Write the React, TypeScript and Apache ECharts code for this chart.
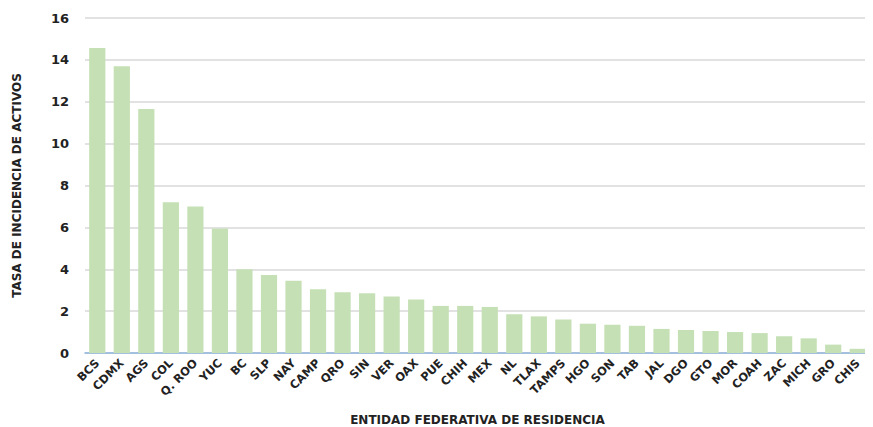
import { useEffect, useRef } from "react"
import * as echarts from "echarts"

const states = ["BCS", "CDMX", "AGS", "COL", "Q. ROO", "YUC", "BC", "SLP", "NAY", "CAMP", "QRO", "SIN", "VER", "OAX", "PUE", "CHIH", "MEX", "NL", "TLAX", "TAMPS", "HGO", "SON", "TAB", "JAL", "DGO", "GTO", "MOR", "COAH", "ZAC", "MICH", "GRO", "CHIS"]
const rates = [14.57, 13.7, 11.65, 7.2, 7.0, 5.95, 4.0, 3.72, 3.45, 3.05, 2.9, 2.85, 2.7, 2.55, 2.25, 2.25, 2.2, 1.85, 1.75, 1.6, 1.4, 1.35, 1.3, 1.15, 1.1, 1.05, 1.0, 0.95, 0.8, 0.7, 0.4, 0.2]

const font = "DejaVu Sans"

export default function App() {
  const chartRef = useRef<HTMLDivElement>(null)

  useEffect(() => {
    if (!chartRef.current) return
    const chart = echarts.init(chartRef.current, null, { renderer: "svg" })
    chart.setOption({
      animation: false,
      grid: { left: 77, right: 3, top: 10, bottom: 74, outerBoundsMode: "none", containLabel: false },
      xAxis: {
        type: "category",
        data: states,
        name: "ENTIDAD FEDERATIVA DE RESIDENCIA",
        nameLocation: "middle",
        nameGap: 61,
        nameTextStyle: { color: "#222", fontFamily: font, fontWeight: "bold", fontSize: 12 },
        axisLine: { lineStyle: { color: "#8fb5dd", width: 1.5 } },
        axisTick: { show: false },
        axisLabel: { interval: 0, rotate: 45, color: "#222", fontFamily: font, fontWeight: "bold", fontSize: 11.5, margin: 8 },
      },
      yAxis: {
        type: "value",
        min: 0,
        max: 16,
        interval: 2,
        name: "TASA DE INCIDENCIA DE ACTIVOS",
        nameLocation: "middle",
        nameGap: 62,
        nameTextStyle: { color: "#222", fontFamily: font, fontWeight: "bold", fontSize: 12 },
        axisLabel: { color: "#222", fontFamily: font, fontWeight: "bold", fontSize: 13, margin: 16 },
        splitLine: { lineStyle: { color: "#d9d9d9", width: 1.5 } },
      },
      series: [
        {
          type: "bar",
          data: rates,
          barWidth: "66%",
          itemStyle: { color: "#c5e0b4" },
        },
      ],
    })
    return () => chart.dispose()
  }, [])

  return <div ref={chartRef} style={{ width: 865, height: 419 }} />
}
